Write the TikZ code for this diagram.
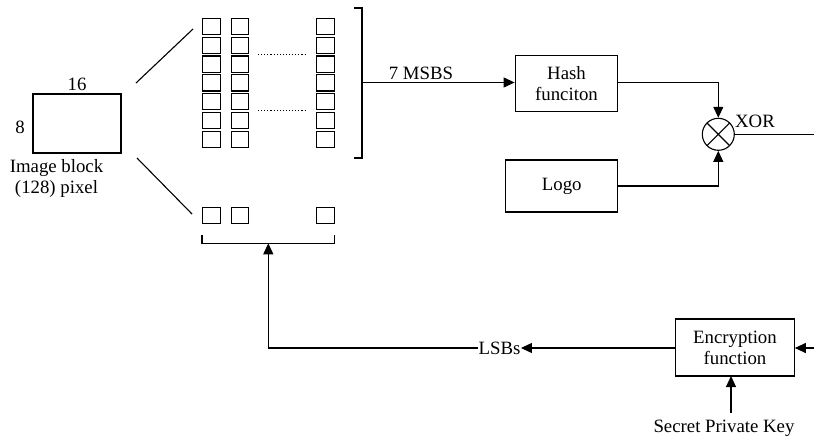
\documentclass[tikz,border=0pt]{standalone}
\usepackage{fontspec}
\setmainfont{Liberation Serif}
\usetikzlibrary{arrows.meta}

\begin{document}
\begin{tikzpicture}[x=1pt,y=-1pt,line width=1.1pt,
  txt/.style={font=\fontsize{18.8}{21}\selectfont,inner sep=0pt,align=center},
  blk/.style={draw,txt},
  px/.style={draw,minimum width=17.3pt,minimum height=16.2pt,inner sep=0pt},
  arr/.style={-{Triangle[length=11pt,width=10pt]}},
  xorsym/.style={draw,circle,minimum size=32pt,inner sep=0pt,
    path picture={\draw (path picture bounding box.north west)--(path picture bounding box.south east)
      (path picture bounding box.south west)--(path picture bounding box.north east);}}]
\useasboundingbox (0,0) rectangle (814,440);
% image block
\node[draw,minimum width=88pt,minimum height=59pt] (img) at (77,123.5) {};
\node[txt] (w) at (77,84) {16};
\node[txt] (h) at (20,127) {8};
\node[txt] (imgtxt) at (56.5,178) {Image block\\(128) pixel};
\draw (136,83)--(193,29);
\draw (137,158)--(192,214);
% bit planes
\foreach \c/\x in {1/211.5,2/239.7,3/325.4}{
  \foreach \r in {1,...,7}
    \node[px] (p\c-\r) at (\x,{26.5+(\r-1)*18.8}) {};
  \node[px] (q\c) at (\x,215.5) {};
}
\draw[dotted] (258,54.3)--(305,54.3);
\draw[dotted] (258,110.7)--(305,110.7);
\draw (354,8)--(362,8)--(362,158)--(354,158);
\coordinate (msb) at (362,82.5);
\draw (202,235)--(202,243.3)--(334.5,243.3)--(334.5,235);
\coordinate (lsb) at (268.3,243.3);
% right part
\node[blk,minimum width=102.7pt,minimum height=55.3pt] (hash) at (566.5,83.4) {Hash\\funciton};
\node[blk,minimum width=112pt,minimum height=52pt] (logo) at (561.7,186) {Logo};
\node[xorsym] (xor) at (718.3,134.3) {};
\node[txt] (xortxt) at (755,121) {XOR};
\node[blk,minimum width=118.6pt,minimum height=57pt] (enc) at (735,347.5) {Encryption\\function};
\node[txt] (lsbtxt) at (499.5,348) {LSBs};
\node[txt] (key) at (724,428) {Secret Private Key};
\node[txt] (msbtxt) at (421,73) {7 MSBS};
\coordinate (out) at (814,134.3);
\coordinate (in) at (814,348);
% connectors
\draw[arr] (msb)--(hash.west|-msb);
\draw[arr] (hash.east|-msb)-|(xor.north);
\draw[arr] (logo.east)-|(xor.south);
\draw (xor.east)--(out);
\draw[arr] (in)--(enc.east|-in);
\draw[arr] (enc.west|-lsbtxt)--(lsbtxt.east);
\draw[arr] (lsbtxt.west)-|(lsb);
\draw[arr] (731,413)--(731,376);
\end{tikzpicture}
\end{document}
